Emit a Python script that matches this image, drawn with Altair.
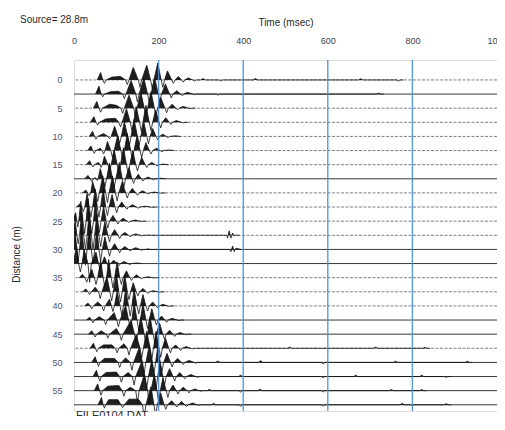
import altair as alt
import pandas as pd

# ---- chart values ----
distances = [0, 2.5, 5, 7.5, 10, 12.5, 15, 17.5, 20, 22.5, 25, 27.5,
             30, 32.5, 35, 37.5, 40, 42.5, 45, 47.5, 50, 52.5, 55, 57.5]
time_ticks = [0, 200, 400, 600, 800, 1000]
distance_ticks = [0, 5, 10, 15, 20, 25, 30, 35, 40, 45, 50, 55]
grid_times = [200, 400, 600, 800]
solid_traces = [2.5, 17.5, 30, 32.5, 42.5, 45, 50, 52.5, 55, 57.5]
source_label = "Source= 28.8m"
file_label = "FILE0104.DAT"

# wiggle extremes per trace: (time ms, amplitude m; positive = filled lobe)
trace_00 = [(63, 1.3), (72, -0.6), (90, 0.5), (110, 0.6), (126, -0.8), (140, 2.2), (156, -1.3), (172, 2.6), (185, -1.5), (198, 3.0), (210, -1.3), (221, 1.6), (235, -0.6), (247, 0.6), (258, -0.4), (270, 0.35), (285, -0.2), (305, 0.25), (347, -0.2), (429, 0.25), (678, 0.2), (767, -0.2)]
trace_01 = [(59, 1.4), (68, -0.5), (86, 0.4), (105, 0.5), (119, -0.8), (135, 2.4), (150, -1.4), (165, 2.8), (178, -1.5), (191, 2.9), (203, -1.3), (216, 1.8), (230, -0.7), (243, 0.6), (256, -0.3), (268, 0.3), (285, -0.1), (340, -0.2), (720, 0.15)]
trace_02 = [(54, 1.2), (63, -0.7), (84, 0.7), (100, 0.5), (115, -0.9), (130, 2.3), (145, -1.4), (158, 2.8), (170, -1.6), (182, 2.9), (194, -1.4), (205, 1.9), (219, -0.8), (232, 0.7), (245, -0.3), (258, 0.3), (275, -0.1)]
trace_03 = [(47, 1.0), (56, -0.5), (75, 0.6), (98, 0.7), (110, -0.8), (124, 2.4), (137, -1.5), (147, 2.8), (159, -1.6), (170, 3.0), (182, -1.5), (193, 2.2), (205, -1.0), (217, 0.8), (229, -0.4), (242, 0.3), (258, -0.1)]
trace_04 = [(44, 0.9), (52, -0.5), (70, 0.5), (84, -0.4), (96, 1.8), (108, -1.2), (119, 2.6), (131, -1.6), (142, 3.0), (154, -1.6), (165, 2.6), (176, -1.3), (186, 1.4), (198, -0.6), (210, 0.4), (222, -0.2), (240, 0.1)]
trace_05 = [(40, 0.8), (48, -0.5), (62, 0.4), (70, -0.6), (79, 1.6), (91, -1.2), (103, 2.6), (115, -1.6), (126, 3.0), (138, -1.6), (149, 2.6), (160, -1.2), (170, 1.4), (182, -0.6), (195, 0.4), (208, -0.2), (225, 0.1)]
trace_06 = [(37, 0.7), (45, -0.4), (58, 0.4), (64, -0.5), (72, 1.5), (84, -1.2), (95, 2.6), (106, -1.6), (117, 3.0), (128, -1.6), (139, 2.5), (150, -1.1), (160, 1.3), (172, -0.5), (184, 0.4), (196, -0.2), (212, 0.1)]
trace_07 = [(33, 0.6), (42, -0.5), (50, 0.2), (55, -0.3), (62, 1.8), (73, -1.4), (84, 2.8), (95, -1.6), (107, 2.9), (118, -1.4), (130, 2.0), (141, -0.8), (152, 0.8), (163, -0.4), (175, 0.3), (188, -0.15), (205, 0.1)]
trace_08 = [(28, 0.5), (36, -0.5), (44, 2.0), (56, -1.5), (68, 3.0), (79, -1.7), (91, 3.0), (102, -1.4), (114, 2.0), (126, -0.9), (138, 0.8), (150, -0.4), (162, 0.4), (175, -0.2), (190, 0.15), (205, -0.05)]
trace_09 = [(14, 0.6), (22, -0.8), (31, 2.4), (40, -1.8), (50, 3.2), (59, -1.8), (69, 3.2), (79, -1.5), (90, 2.2), (101, -1.0), (113, 0.9), (125, -0.4), (138, 0.4), (152, -0.2), (168, 0.15), (185, -0.05)]
trace_10 = [(4, 1.5), (9, -1.0), (16, 3.5), (25, -2.2), (33, 4.0), (42, -2.2), (51, 3.8), (60, -2.0), (70, 2.6), (80, -1.2), (92, 1.0), (104, -0.5), (116, 0.5), (130, -0.25), (145, 0.2), (160, -0.05)]
trace_11 = [(3, 2.5), (10, -1.5), (18, 4.0), (27, -2.5), (36, 4.2), (45, -2.5), (54, 3.8), (63, -2.0), (73, 2.4), (84, -1.2), (96, 1.0), (108, -0.6), (120, 0.5), (133, -0.3), (146, 0.25), (160, -0.1), (175, 0.05), (360, -0.05), (363, -0.5), (367, 0.8), (371, -0.5), (375, 0.4), (379, -0.1)]
trace_12 = [(3, 3.0), (10, -2.0), (18, 4.5), (27, -2.8), (36, 4.5), (45, -2.6), (54, 3.8), (63, -2.0), (73, 2.2), (84, -1.2), (96, 1.0), (108, -0.6), (120, 0.5), (133, -0.3), (146, 0.3), (160, -0.15), (175, 0.1), (368, -0.05), (371, -0.4), (375, 0.6), (379, -0.4), (383, 0.2)]
trace_13 = [(6, 3.0), (15, -1.5), (24, 2.5), (37, -3.3), (52, 2.0), (62, -1.2), (72, 1.2), (82, -0.7), (94, 0.6), (106, -0.4), (118, 0.35), (132, -0.2), (148, 0.1)]
trace_14 = [(20, 0.6), (30, -0.8), (42, 1.5), (52, -1.2), (63, 3.0), (73, -1.8), (82, 3.2), (92, -1.8), (102, 2.8), (112, -1.2), (124, 1.2), (136, -0.5), (148, 0.5), (160, -0.2), (175, 0.15), (190, -0.05)]
trace_15 = [(28, 0.5), (37, -0.5), (50, 0.8), (62, -1.2), (78, 2.6), (89, -1.6), (100, 3.2), (110, -1.8), (120, 3.0), (130, -1.4), (140, 1.6), (151, -0.7), (163, 0.6), (175, -0.3), (188, 0.2), (202, -0.1)]
trace_16 = [(33, 0.5), (42, -0.5), (56, 0.7), (70, -0.9), (84, 1.2), (92, -1.0), (102, 2.6), (113, -1.6), (122, 3.1), (133, -1.8), (142, 3.0), (153, -1.4), (163, 2.0), (174, -0.9), (186, 0.7), (198, -0.4), (210, 0.3), (225, -0.1)]
trace_17 = [(37, 0.5), (45, -0.5), (60, 0.6), (75, -0.8), (95, 1.3), (105, -1.2), (122, 2.6), (133, -1.6), (142, 3.1), (153, -1.8), (163, 3.0), (174, -1.5), (184, 2.0), (195, -0.9), (207, 0.7), (219, -0.4), (232, 0.3), (248, -0.1)]
trace_18 = [(42, 0.6), (50, -0.5), (64, 0.6), (80, -0.7), (100, 1.0), (112, -1.1), (135, 2.4), (147, -1.6), (158, 3.0), (170, -1.8), (180, 3.0), (191, -1.6), (202, 2.0), (214, -0.9), (226, 0.7), (238, -0.4), (250, 0.3), (265, -0.1)]
trace_19 = [(46, 0.9), (54, -0.6), (70, 0.6), (90, 0.6), (102, -0.8), (118, 0.8), (130, -1.2), (147, 2.4), (160, -1.7), (172, 3.0), (184, -1.9), (194, 3.0), (205, -1.6), (216, 1.8), (228, -0.8), (240, 0.6), (252, -0.4), (265, 0.3), (280, -0.1), (510, 0.2), (713, 0.2), (830, 0.15)]
trace_20 = [(50, 1.0), (58, -0.7), (72, 0.7), (96, 0.7), (108, -0.9), (122, 0.8), (137, -1.4), (154, 2.6), (166, -1.9), (178, 3.0), (189, -2.0), (198, 2.8), (208, -1.6), (220, 1.6), (232, -0.8), (245, 0.7), (258, -0.4), (272, 0.35), (288, -0.15), (340, 0.25), (441, 0.3), (589, -0.25), (760, 0.2), (930, 0.2)]
trace_21 = [(53, 1.1), (61, -0.8), (76, 0.7), (100, 0.8), (112, -1.0), (128, 0.7), (142, -1.5), (160, 2.6), (172, -2.0), (184, 3.0), (194, -2.2), (203, 2.6), (214, -1.5), (226, 1.4), (238, -0.8), (250, 0.7), (262, -0.4), (276, 0.35), (292, -0.15), (394, 0.25), (589, -0.2), (666, 0.25), (822, 0.25), (880, -0.15)]
trace_22 = [(56, 1.2), (64, -0.8), (80, 0.8), (106, 0.9), (118, -1.0), (133, 0.6), (150, -2.2), (166, 2.8), (178, -2.4), (190, 3.0), (200, -2.0), (210, 2.2), (222, -1.2), (234, 1.0), (246, -0.6), (258, 0.6), (272, -0.4), (286, 0.3), (300, -0.1), (320, 0.25), (394, -0.25), (440, 0.25), (589, -0.25), (750, 0.2), (822, 0.2)]
trace_23 = [(65, 1.3), (72, -0.6), (82, 0.9), (104, 0.9), (115, -0.5), (130, 1.0), (152, 1.0), (166, -2.2), (182, 3.2), (193, -1.8), (205, 2.1), (217, -0.8), (231, 0.7), (243, -0.4), (254, 0.6), (266, -0.3), (280, 0.3), (295, -0.1), (330, 0.25), (394, -0.25), (589, -0.25), (776, 0.25), (800, -0.2), (880, 0.2)]

traces = [trace_00, trace_01, trace_02, trace_03, trace_04, trace_05, trace_06, trace_07,
          trace_08, trace_09, trace_10, trace_11, trace_12, trace_13, trace_14, trace_15,
          trace_16, trace_17, trace_18, trace_19, trace_20, trace_21, trace_22, trace_23]

# ---- build drawing tables (troughs drawn as narrow V's, as in the print) ----
V_HALF = 4.0  # ms, half-width of a trough at the baseline
rows = []
for d, ext in zip(distances, traces):
    pts = [(ext[0][0] - 8, 0.0)] + list(ext) + [(ext[-1][0] + 12, 0.0)]
    seq = []
    for i, (t, a) in enumerate(pts):
        if a < 0:
            w = min(V_HALF, 0.45 * (t - pts[i - 1][0]), 0.45 * (pts[i + 1][0] - t))
            seq += [(t - w, 0.0), (t, a), (t + w, 0.0)]
        elif a > 0 and (pts[i - 1][0] < t - 30 or pts[i + 1][0] > t + 30) and abs(a) < 0.35:
            # isolated small noise blip: keep it narrow
            seq += [(t - 5, 0.0), (t, a), (t + 5, 0.0)]
        else:
            seq.append((t, a))
    for t, a in seq:
        rows.append({"trace": d, "t": t, "y": d - a, "ypos": d - max(a, 0.0), "base": d})
wig = pd.DataFrame(rows)

base_df = pd.DataFrame({"d": distances,
                        "solid": [d in solid_traces for d in distances]})
grid_df = pd.DataFrame({"t": grid_times})

FONT = "Liberation Sans"
xscale = alt.Scale(domain=[0, 1000], nice=False, zero=False)
yscale = alt.Scale(domain=[-3.53, 58.6], reverse=True, nice=False, zero=False)
xaxis = alt.Axis(orient="top", values=time_ticks, format="d", ticks=False, domain=False, grid=False,
                 labelFlush=False, labelPadding=15, labelFontSize=9, labelColor="#3a3f4a",
                 labelFont=FONT, title="Time (msec)", titleFont=FONT, titleFontSize=10,
                 titleFontWeight="normal", titleColor="#2a2a2a", titlePadding=9)
yaxis = alt.Axis(orient="left", values=distance_ticks, ticks=False, domain=False, grid=False,
                 labelPadding=12, labelFontSize=9, labelColor="#4a5576", labelFont=FONT,
                 title="Distance (m)", titleFont=FONT, titleFontSize=10,
                 titleFontWeight="normal", titleColor="#2a2a2a",
                 titleX=-58, titleY=194, titleAlign="center", titleBaseline="middle",
                 titleAngle=270)

baseline_solid = alt.Chart(base_df).transform_filter("datum.solid").mark_rule(
    color="#222222", strokeWidth=0.9).encode(y=alt.Y("d:Q", scale=yscale, axis=yaxis))
baseline_dash = alt.Chart(base_df).transform_filter("!datum.solid").mark_rule(
    color="#5a5f6a", strokeWidth=0.8, strokeDash=[3, 1.5]).encode(
    y=alt.Y("d:Q", scale=yscale, axis=yaxis))

fill = alt.Chart(wig).mark_area(color="#1e1e1e", clip=True, interpolate="linear").encode(
    x=alt.X("t:Q", scale=xscale, axis=xaxis),
    y=alt.Y("ypos:Q", scale=yscale, axis=yaxis),
    y2="base:Q",
    detail="trace:N",
)
line = alt.Chart(wig).mark_line(color="#111111", strokeWidth=0.8, clip=True).encode(
    x=alt.X("t:Q", scale=xscale, axis=xaxis),
    y=alt.Y("y:Q", scale=yscale, axis=yaxis),
    detail="trace:N",
)
grid = alt.Chart(grid_df).mark_rule(color="#4a8fd6", strokeWidth=1.4, opacity=0.9).encode(
    x=alt.X("t:Q", scale=xscale, axis=xaxis))

src_text = alt.Chart(pd.DataFrame({"s": [source_label]})).mark_text(
    align="left", baseline="middle", font=FONT, fontSize=10, color="#2a2a2a").encode(
    x=alt.value(-54), y=alt.value(-40), text="s:N")
file_text = alt.Chart(pd.DataFrame({"s": [file_label]})).mark_text(
    align="left", baseline="top", font=FONT, fontSize=11, color="#2a2a2a").encode(
    x=alt.value(2), y=alt.value(350), text="s:N")

chart = alt.layer(baseline_dash, baseline_solid, fill, line, grid, src_text, file_text).properties(
    width=423, height=351,
    autosize=alt.AutoSizeParams(type="none"),
    padding={"left": 66, "top": 52, "right": 0, "bottom": 5},
).configure_view(stroke="#111111", strokeWidth=1).configure(background="white")

chart.save("out.html", embed_options={"renderer": "svg", "actions": False})
